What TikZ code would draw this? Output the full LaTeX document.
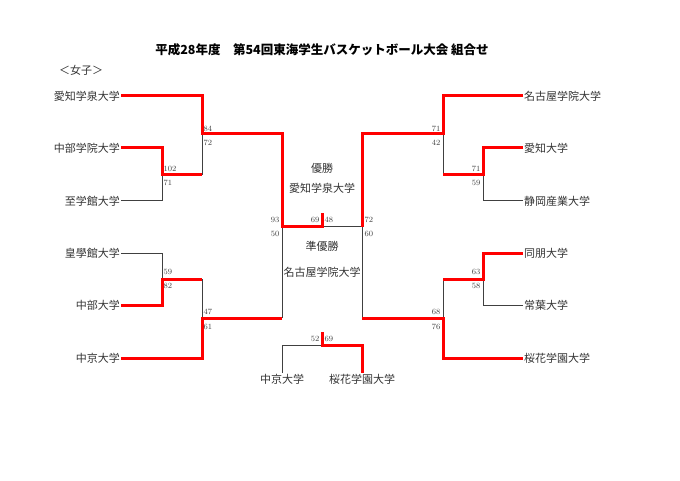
\documentclass[tikz,border=0pt]{standalone}
\usepackage{fontspec}
\usepackage{tikz}
\usetikzlibrary{positioning}
\newfontfamily\jp{Noto Sans CJK JP}
\tikzset{
  team/.style={font=\jp\fontsize{11}{13}\selectfont, text=black!80, inner sep=1pt},
  score/.style={font=\fontsize{8}{9}\selectfont, text=black!75, inner sep=0.5pt},
  win/.style={draw=red, line width=3pt},
  lose/.style={draw=black!75, line width=1pt}
}

\begin{document}
\begin{tikzpicture}[x=1pt, y=-1pt]

    \useasboundingbox (0,0) rectangle (680,481);

    \node[font=\jp\bfseries\fontsize{12.5}{14}\selectfont]
      (Title) at (322,50) {平成28年度　第54回東海学生バスケットボール大会 組合せ};
    \node[team]
      (Women) at (81,70) {＜女子＞};

    % left half
    \node[team, anchor=east]
      (Gakusen) at (121,96) {愛知学泉大学};
    \node[team, anchor=east]
      (ChubuGakuin) at (121,148) {中部学院大学};
    \node[team, anchor=east]
      (Shigakkan) at (121,201) {至学館大学};
    \node[team, anchor=east]
      (Kogakkan) at (121,253) {皇學館大学};
    \node[team, anchor=east]
      (Chubu) at (121,305) {中部大学};
    \node[team, anchor=east]
      (Chukyo) at (121,358) {中京大学};

    % right half
    \node[team, anchor=west]
      (NagoyaGakuin) at (523,96) {名古屋学院大学};
    \node[team, anchor=west]
      (Aichi) at (523,148) {愛知大学};
    \node[team, anchor=west]
      (ShizuokaSangyo) at (523,201) {静岡産業大学};
    \node[team, anchor=west]
      (Doho) at (523,253) {同朋大学};
    \node[team, anchor=west]
      (Tokoha) at (523,305) {常葉大学};
    \node[team, anchor=west]
      (Oka) at (523,358) {桜花学園大学};

    \coordinate (FirstA) at (162,175);
    \coordinate (SemiA) at (202,134);
    \coordinate (FirstB) at (162,279);
    \coordinate (SemiB) at (202,318);
    \coordinate (FinalL) at (282,227);
    \coordinate (FirstC) at (483,175);
    \coordinate (SemiC) at (443,134);
    \coordinate (FirstD) at (483,279);
    \coordinate (SemiD) at (443,318);
    \coordinate (FinalR) at (362,227);
    \coordinate (Final) at (322,227);
    \coordinate (Third) at (322,345);

    % brackets
    \path[lose]
      (Shigakkan.east) -| (FirstA)
      (FirstA -| SemiA) -- (SemiA)
      (Kogakkan.east) -| (FirstB)
      (FirstB -| SemiB) -- (SemiB)
      (SemiB -| FinalL) -- (FinalL)
      (ShizuokaSangyo.west) -| (FirstC)
      (FirstC -| SemiC) -- (SemiC)
      (Tokoha.west) -| (FirstD)
      (FirstD -| SemiD) -- (SemiD)
      (SemiD -| FinalR) -- (FinalR)
      (Final) -- (FinalR);
    \path[win]
      (Gakusen.east) -| (SemiA) -| (FinalL) -- (Final) -- ++(0,-14)
      (ChubuGakuin.east) -| (FirstA) -- (FirstA -| SemiA)
      (Chubu.east) -| (FirstB) -- (FirstB -| SemiB)
      (Chukyo.east) -| (SemiB) -- (SemiB -| FinalL)
      (NagoyaGakuin.west) -| (SemiC) -| (FinalR)
      (Aichi.west) -| (FirstC) -- (FirstC -| SemiC)
      (Doho.west) -| (FirstD) -- (FirstD -| SemiD)
      (Oka.west) -| (SemiD) -- (SemiD -| FinalR);

    % scores
    \node[score, anchor=west] at (163,169) {102};
    \node[score, anchor=west] at (163,183) {71};
    \node[score, anchor=west] at (203,129) {84};
    \node[score, anchor=west] at (203,143) {72};
    \node[score, anchor=west] at (163,272) {59};
    \node[score, anchor=west] at (163,286) {82};
    \node[score, anchor=west] at (203,312) {47};
    \node[score, anchor=west] at (203,327) {61};
    \node[score, anchor=east] at (481,169) {71};
    \node[score, anchor=east] at (481,183) {59};
    \node[score, anchor=east] at (441,129) {71};
    \node[score, anchor=east] at (441,143) {42};
    \node[score, anchor=east] at (481,272) {63};
    \node[score, anchor=east] at (481,286) {58};
    \node[score, anchor=east] at (441,312) {68};
    \node[score, anchor=east] at (441,327) {76};
    \node[score, anchor=east] at (280,220) {93};
    \node[score, anchor=east] at (280,234) {50};
    \node[score, anchor=west] at (364,220) {72};
    \node[score, anchor=west] at (364,234) {60};
    \node[score, anchor=east] at (320,220) {69};
    \node[score, anchor=west] at (324,220) {48};

    % result
    \node[team]
      (Champion) at (322,168) {優勝};
    \node[team]
      (ChampionName) [below=8pt of Champion] {愛知学泉大学};
    \node[team]
      (RunnerUp) at (322,246) {準優勝};
    \node[team]
      (RunnerUpName) [below=14pt of RunnerUp] {名古屋学院大学};

    % third place
    \node[team]
      (ThirdChukyo) at (282,379) {中京大学};
    \node[team]
      (ThirdOka) at (362,379) {桜花学園大学};
    \path[lose]
      (ThirdChukyo.north) |- (Third);
    \path[win]
      (ThirdOka.north) |- (Third) -- ++(0,-13);
    \node[score, anchor=east] at (320,339) {52};
    \node[score, anchor=west] at (324,339) {69};

\end{tikzpicture}
\end{document}
